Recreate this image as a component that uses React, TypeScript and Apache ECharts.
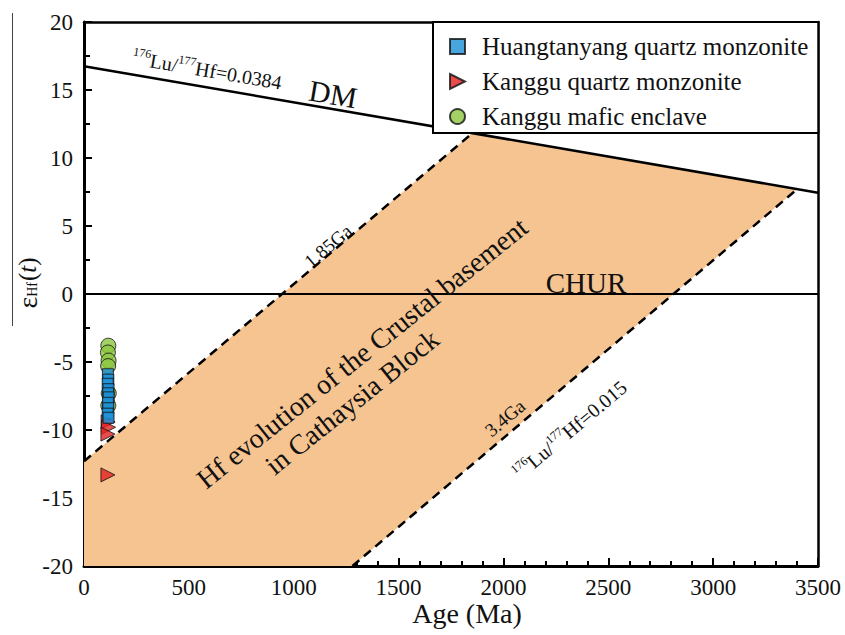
import React, { useEffect, useRef } from "react";
import * as echarts from "echarts";

// Reference evolution lines (Age in Ma, εHf(t))
const dmLine: number[][] = [[0, 16.75], [3500, 7.45]];
const churLine: number[][] = [[0, 0], [3500, 0]];
const crust185Line: number[][] = [[0, -12.3], [1850, 11.8]];
const crust34Line: number[][] = [[1280, -20], [3400, 7.7]];
const crustField: number[][] = [[0, -20], [0, -12.3], [1850, 11.8], [3400, 7.7], [1280, -20]];

// Zircon Hf data
const huangtanyangAge = [114, 116, 113, 117, 115, 118, 114, 116, 113, 117];
const huangtanyangEHf = [-5.9, -6.3, -6.6, -7.0, -7.3, -7.6, -8.0, -8.4, -8.8, -9.1];
const kangguQmAge = [115, 117, 114, 114];
const kangguQmEHf = [-9.4, -9.8, -10.3, -13.3];
const kangguEnclaveAge = [116, 114, 117, 115, 118, 116];
const kangguEnclaveEHf = [-3.8, -4.3, -4.9, -5.3, -7.3, -8.2];

const seriesNames = [
  "Huangtanyang quartz monzonite",
  "Kanggu quartz monzonite",
  "Kanggu mafic enclave",
];

const FONT = "Liberation Serif";

const pair = (xs: number[], ys: number[]) => xs.map((x, i) => [x, ys[i]]);

const centered = (text: string, fontSize: number) => ({
  text,
  fontFamily: FONT,
  fontSize,
  fill: "#111",
  align: "center",
  verticalAlign: "middle",
});

export default function App() {
  const ref = useRef<HTMLDivElement>(null);

  useEffect(() => {
    if (!ref.current) return;
    const chart = echarts.init(ref.current, undefined, { renderer: "svg" });

    const tickStyle = { color: "#000", width: 2 };
    const labelStyle = {
      fontFamily: FONT,
      fontSize: 23,
      color: "#111",
      formatter: (v: number) => String(v),
    };

    const supRich = {
      b: { fontFamily: FONT, fontSize: 20, fill: "#111" },
      s: { fontFamily: FONT, fontSize: 12, fill: "#111", padding: [0, 0, 12, 0] },
    };

    chart.setOption({
      animation: false,
      backgroundColor: "#fff",
      textStyle: { fontFamily: FONT },
      grid: { left: 84, right: 27, top: 22, bottom: 69, containLabel: false },
      xAxis: [
        {
          type: "value",
          min: 0,
          max: 3500,
          interval: 500,
          position: "bottom",
          axisLine: { show: true, onZero: false, lineStyle: { color: "#000", width: 3 } },
          axisTick: { show: true, inside: true, length: 8, lineStyle: tickStyle },
          minorTick: { show: true, splitNumber: 5, length: 5, lineStyle: tickStyle },
          axisLabel: { ...labelStyle, margin: 10 },
          splitLine: { show: false },
        },
        {
          type: "value",
          min: 0,
          max: 3500,
          position: "top",
          axisLine: { show: true, onZero: false, lineStyle: { color: "#000", width: 2.5 } },
          axisTick: { show: false },
          axisLabel: { show: false },
          splitLine: { show: false },
        },
      ],
      yAxis: [
        {
          type: "value",
          min: -20,
          max: 20,
          interval: 5,
          position: "left",
          axisLine: { show: true, onZero: false, lineStyle: { color: "#000", width: 3 } },
          axisTick: { show: true, inside: true, length: 8, lineStyle: tickStyle },
          minorTick: { show: true, splitNumber: 2, length: 6, lineStyle: tickStyle },
          axisLabel: { ...labelStyle, margin: 11 },
          splitLine: { show: false },
        },
        {
          type: "value",
          min: -20,
          max: 20,
          position: "right",
          axisLine: { show: true, onZero: false, lineStyle: { color: "#000", width: 2.5 } },
          axisTick: { show: false },
          axisLabel: { show: false },
          splitLine: { show: false },
        },
      ],
      legend: {
        data: [
          { name: seriesNames[0], icon: "rect" },
          { name: seriesNames[1], icon: "path://M0,0 L10,5 L0,10 Z" },
          { name: seriesNames[2], icon: "circle" },
        ],
        orient: "vertical",
        left: 433,
        top: 22,
        padding: [12, 10, 4, 16],
        itemWidth: 15,
        itemHeight: 15,
        itemGap: 10,
        symbolKeepAspect: true,
        backgroundColor: "#fff",
        borderColor: "#000",
        borderWidth: 2,
        borderRadius: 0,
        textStyle: {
          fontFamily: FONT,
          fontSize: 25,
          color: "#111",
          lineHeight: 25,
          padding: [0, 0, 0, 12],
        },
      },
      series: [
        {
          type: "custom",
          name: "Crustal field",
          z: 1,
          silent: true,
          data: crustField,
          renderItem: (params: any, api: any) => {
            if (params.dataIndex !== 0) return null;
            const pts = crustField.map((p) => api.coord(p));
            return {
              type: "polygon",
              shape: { points: pts },
              style: { fill: "#F5C491", stroke: "none" },
            };
          },
        },
        {
          type: "line",
          name: "DM",
          data: dmLine,
          symbol: "none",
          z: 3,
          lineStyle: { color: "#000", width: 2.5 },
        },
        {
          type: "line",
          name: "CHUR",
          data: churLine,
          symbol: "none",
          z: 3,
          lineStyle: { color: "#000", width: 2 },
        },
        {
          type: "line",
          name: "1.85Ga",
          data: crust185Line,
          symbol: "none",
          z: 3,
          lineStyle: { color: "#000", width: 2.5, type: [9, 6] },
        },
        {
          type: "line",
          name: "3.4Ga",
          data: crust34Line,
          symbol: "none",
          z: 3,
          lineStyle: { color: "#000", width: 2.5, type: [9, 6] },
        },
        {
          type: "scatter",
          name: seriesNames[1],
          data: pair(kangguQmAge, kangguQmEHf),
          symbol: "triangle",
          symbolRotate: -90,
          symbolSize: 14,
          z: 4,
          itemStyle: { color: "#E3201E", borderColor: "#111", borderWidth: 1 },
        },
        {
          type: "scatter",
          name: seriesNames[2],
          data: pair(kangguEnclaveAge, kangguEnclaveEHf),
          symbol: "circle",
          symbolSize: 15,
          z: 4,
          itemStyle: { color: "#8CC63F", borderColor: "#111", borderWidth: 1 },
        },
        {
          type: "scatter",
          name: seriesNames[0],
          data: pair(huangtanyangAge, huangtanyangEHf),
          symbol: "rect",
          symbolSize: 11,
          z: 4,
          itemStyle: { color: "#1A8FD6", borderColor: "#111", borderWidth: 1 },
        },
      ],
      graphic: [
        {
          type: "line",
          z: 10,
          shape: { x1: 12.5, y1: 13, x2: 12.5, y2: 326 },
          style: { stroke: "#444", lineWidth: 1 },
        },
        {
          type: "text",
          z: 10,
          x: 27,
          y: 283,
          rotation: Math.PI / 2,
          style: {
            text: "{e|ε}{h|Hf}{p|(}{t|t}{p|)}",
            align: "center",
            verticalAlign: "middle",
            rich: {
              e: { fontFamily: FONT, fontSize: 28, fill: "#111" },
              h: { fontFamily: FONT, fontSize: 14, fill: "#111", padding: [10, 1, 0, 0] },
              p: { fontFamily: FONT, fontSize: 25, fill: "#111" },
              t: { fontFamily: FONT, fontSize: 25, fontStyle: "italic", fill: "#111" },
            },
          },
        },
        { type: "text", z: 10, x: 467, y: 613, style: centered("Age (Ma)", 28) },
        {
          type: "text",
          z: 10,
          x: 207,
          y: 70,
          rotation: -0.17,
          style: {
            text: "{s|176}{b|Lu/}{s|177}{b|Hf=0.0384}",
            align: "center",
            verticalAlign: "middle",
            rich: supRich,
          },
        },
        { type: "text", z: 10, x: 333, y: 94, rotation: -0.17, style: centered("DM", 30) },
        { type: "text", z: 10, x: 586, y: 283, style: centered("CHUR", 29) },
        { type: "text", z: 10, x: 328, y: 246, rotation: 0.7, style: centered("1.85Ga", 19) },
        { type: "text", z: 10, x: 505, y: 418, rotation: 0.7, style: centered("3.4Ga", 19) },
        {
          type: "text",
          z: 10,
          x: 570,
          y: 430,
          rotation: 0.7,
          style: {
            text: "{s|176}{b|Lu/}{s|177}{b|Hf=0.015}",
            align: "center",
            verticalAlign: "middle",
            rich: supRich,
          },
        },
        {
          type: "text",
          z: 10,
          x: 362,
          y: 353,
          rotation: 0.675,
          style: centered("Hf evolution of the Crustal basement", 28),
        },
        {
          type: "text",
          z: 10,
          x: 352,
          y: 402,
          rotation: 0.675,
          style: centered("in Cathaysia Block", 28),
        },
      ],
    });

    return () => chart.dispose();
  }, []);

  return (
    <div
      ref={ref}
      style={{ position: "fixed", left: 0, top: 0, width: 845, height: 635 }}
    />
  );
}
